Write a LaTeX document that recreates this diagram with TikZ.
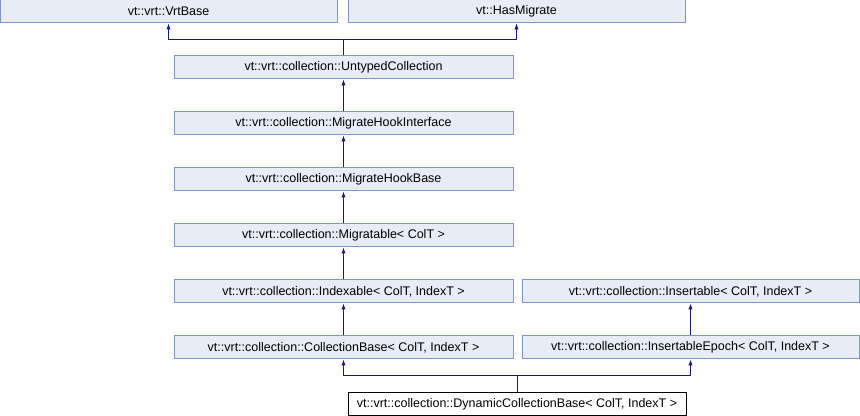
\documentclass[tikz,border=0pt]{standalone}
\usepackage{fontspec}
\setmainfont{Liberation Sans}
\usepackage[x11names, svgnames, rgb]{xcolor}
\usetikzlibrary{arrows.meta,shapes}
\definecolor{nodefill}{HTML}{E8ECF5}
\definecolor{nodeline}{HTML}{7C95CC}
\definecolor{edgeblue}{HTML}{191970}
\tikzset{
  cls/.style={draw=nodeline,fill=nodefill,line width=1bp,inner sep=0pt,
    minimum width=337bp,minimum height=23bp,font=\fontsize{12.5bp}{14bp}\selectfont},
  cur/.style={cls,draw=black,fill=white},
  inh/.style={->,draw=edgeblue,line width=1bp}
}

\begin{document}
\begin{tikzpicture}[>={Latex[length=6bp,width=4.5bp]},line join=bevel]
		\useasboundingbox (0bp,0bp) rectangle (860bp,416bp);
		\node (vrtbase) at (168.5bp,404.5bp) [cls] {vt::vrt::VrtBase};
		  \node (hasmig) at (516.5bp,404.5bp) [cls] {vt::HasMigrate};
		  \node (untyped) at (343.5bp,348.5bp) [cls,minimum width=339bp] {vt::vrt::collection::UntypedCollection};
		  \node (hookif) at (343.5bp,292.5bp) [cls,minimum width=339bp] {vt::vrt::collection::MigrateHookInterface};
		  \node (hookbase) at (343.5bp,236.5bp) [cls,minimum width=339bp] {vt::vrt::collection::MigrateHookBase};
		  \node (migr) at (343.5bp,180.5bp) [cls,minimum width=339bp] {vt::vrt::collection::Migratable<\ ColT >};
		  \node (idx) at (343.5bp,124.5bp) [cls,minimum width=339bp] {vt::vrt::collection::Indexable<\ ColT, IndexT >};
		  \node (ins) at (690.5bp,124.5bp) [cls] {vt::vrt::collection::Insertable<\ ColT, IndexT >};
		  \node (colbase) at (343.5bp,68.5bp) [cls,minimum width=339bp] {vt::vrt::collection::CollectionBase<\ ColT, IndexT >};
		  \node (insep) at (690.5bp,68.5bp) [cls] {vt::vrt::collection::InsertableEpoch<\ ColT, IndexT >};
		  \node (dyncol) at (517bp,12bp) [cur,minimum width=338bp] {vt::vrt::collection::DynamicCollectionBase<\ ColT, IndexT >};
		  \coordinate (topj) at (343.5bp,376bp);
		  \coordinate (dynj) at (517bp,40bp);
		  \draw [inh] (untyped.north) -- (topj) -| (vrtbase.south);
		  \draw [inh] (topj) -| (hasmig.south);
		  \draw [inh] (hookif) -- (untyped);
		  \draw [inh] (hookbase) -- (hookif);
		  \draw [inh] (migr) -- (hookbase);
		  \draw [inh] (idx) -- (migr);
		  \draw [inh] (colbase) -- (idx);
		  \draw [inh] (insep) -- (ins);
		  \draw [inh] (dyncol.north) -- (dynj) -| (colbase.south);
		  \draw [inh] (dynj) -| (insep.south);
		
	\end{tikzpicture}
\end{document}
